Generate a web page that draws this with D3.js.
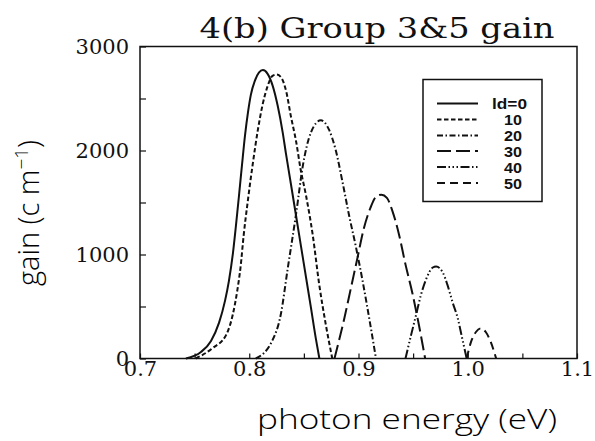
<!DOCTYPE html>
<html>
<head>
<meta charset="utf-8">
<script src="https://cdn.jsdelivr.net/npm/d3@7"></script>
<style>
  html, body { margin: 0; padding: 0; background: #fff; }
  svg { display: block; }
</style>
</head>
<body>
<svg id="chart" width="595" height="441"></svg>
<script>
// ---- data ----
const seriesLabels = ["ld=0", "10", "20", "30", "40", "50"];

const energy0 = [0.742,0.7558,0.765,0.7723,0.7778,0.7814,0.7851,0.7878,0.7906,0.7933,0.7961,0.7988,0.8015,0.8052,0.8088,0.8125,0.8168,0.8214,0.826,0.8306,0.8336,0.8381,0.8427,0.8473,0.8519,0.8565,0.861,0.8642];
const gain0   = [0,63,169,342,554,747,1016,1276,1565,1854,2143,2364,2537,2672,2749,2773,2737,2624,2432,2175,1970,1680,1382,1083,785,486,188,0];

const energy10 = [0.751,0.7665,0.779,0.785,0.789,0.792,0.795,0.7985,0.803,0.808,0.812,0.817,0.821,0.825,0.829,0.834,0.838,0.843,0.847,0.852,0.858,0.864,0.870,0.876];
const gain10   = [0,100,230,425,650,875,1195,1500,1855,2205,2430,2625,2715,2730,2705,2560,2335,2080,1820,1565,1195,715,330,0];

const energy20 = [0.806,0.821,0.829,0.835,0.843,0.849,0.8565,0.8655,0.873,0.879,0.8855,0.8915,0.8975,0.9035,0.910,0.916];
const gain20   = [0,170,430,850,1400,1850,2175,2290,2200,2010,1690,1370,1080,760,375,0];

const energy30 = [0.878,0.887,0.893,0.899,0.905,0.911,0.916,0.921,0.926,0.931,0.937,0.943,0.9495,0.9545,0.961];
const gain30   = [0,385,675,965,1255,1450,1555,1575,1545,1420,1195,905,620,365,0];

const energy40 = [0.943,0.948,0.9525,0.957,0.962,0.968,0.971,0.977,0.9815,0.986,0.991,0.995,0.999];
const gain40   = [0,220,410,605,765,875,885,830,705,545,380,190,0];

const energy50 = [0.999,1.003,1.0075,1.012,1.0165,1.021,1.026];
const gain50   = [0,160,255,290,255,160,0];

const xTicks = [0.7,0.75,0.8,0.85,0.9,0.95,1.0,1.05,1.1];
const xTickLabels = ["0.7","","0.8","","0.9","","1.0","","1.1"];
const yTicks = [0,500,1000,1500,2000,2500,3000];
const yTickLabels = ["0","","1000","","2000","","3000"];

const titleText = "4(b) Group 3&5 gain";
const xTitle = "photon energy (eV)";

// ---- layout ----
const plotL = 140, plotR = 577, plotT = 46.5, plotB = 358.5;
const svg = d3.select("#chart");

const x = d3.scaleLinear().domain([0.7, 1.1]).range([plotL, plotR]);
const y = d3.scaleLinear().domain([0, 3000]).range([plotB, plotT]);

const dashes = ["none", "4.5,2.5", "6,2.5,1.5,2.5", "14,5", "9,2.5,1.5,2.5,1.5,2.5,1.5,2.5", "8,5"];
const series = [
  [energy0, gain0], [energy10, gain10], [energy20, gain20],
  [energy30, gain30], [energy40, gain40], [energy50, gain50]
].map(([e, g], i) => ({ label: seriesLabels[i], dash: dashes[i], pts: e.map((v, j) => [v, g[j]]) }));

// frame
svg.append("rect")
  .attr("x", plotL).attr("y", plotT)
  .attr("width", plotR - plotL).attr("height", plotB - plotT)
  .attr("fill", "none").attr("stroke", "#111").attr("stroke-width", 1.5);

// axes
const xAxis = d3.axisBottom(x).tickValues(xTicks)
  .tickFormat((d, i) => xTickLabels[i]).tickSizeInner(-5).tickSizeOuter(0).tickPadding(3);
const gx = svg.append("g").attr("transform", `translate(0,${plotB})`).call(xAxis);
gx.select(".domain").remove();

const yAxis = d3.axisLeft(y).tickValues(yTicks)
  .tickFormat((d, i) => yTickLabels[i]).tickSizeInner(-6).tickSizeOuter(0).tickPadding(11);
const gy = svg.append("g").attr("transform", `translate(${plotL},0)`).call(yAxis);
gy.select(".domain").remove();

[gx, gy].forEach(g => {
  g.selectAll(".tick line").attr("stroke", "#111").attr("stroke-width", 1.2);
  g.selectAll(".tick text").attr("font-family", "DejaVu Serif, serif")
    .attr("font-size", 21).attr("fill", "#111");
});

// curves
const line = d3.line().x(d => x(d[0])).y(d => y(d[1])).curve(d3.curveMonotoneX);
svg.append("g").selectAll("path").data(series).join("path")
  .attr("d", d => line(d.pts))
  .attr("fill", "none").attr("stroke", "#111").attr("stroke-width", 2)
  .attr("stroke-dasharray", d => d.dash);

// legend
const lg = svg.append("g");
lg.append("rect").attr("x", 423).attr("y", 79.5).attr("width", 119).attr("height", 122)
  .attr("fill", "#fff").attr("stroke", "#111").attr("stroke-width", 1.5);
const rowY = [103.5, 119.5, 135.5, 151, 167, 183];
series.forEach((s, i) => {
  lg.append("line").attr("x1", 437).attr("x2", 478).attr("y1", rowY[i]).attr("y2", rowY[i])
    .attr("stroke", "#111").attr("stroke-width", 2).attr("stroke-dasharray", s.dash);
  lg.append("text").attr("x", i === 0 ? 492 : 504).attr("y", rowY[i] + 5.5)
    .attr("font-family", "Liberation Sans, Arial, sans-serif").attr("font-weight", "bold")
    .attr("font-size", 14.5).attr("fill", "#111")
    .attr("textLength", i === 0 ? 35 : 18).attr("lengthAdjust", "spacingAndGlyphs")
    .text(s.label);
});

// title
svg.append("text").attr("x", 377).attr("y", 38).attr("text-anchor", "middle")
  .attr("font-family", "DejaVu Serif, serif").attr("font-size", 28)
  .attr("textLength", 355).attr("lengthAdjust", "spacingAndGlyphs")
  .attr("fill", "#111").text(titleText);

// x title
svg.append("text").attr("x", 407).attr("y", 429).attr("text-anchor", "middle")
  .attr("font-family", "Open Sans, DejaVu Sans, sans-serif").attr("font-weight", 300)
  .attr("font-size", 28).attr("textLength", 300).attr("lengthAdjust", "spacingAndGlyphs")
  .attr("fill", "#000").text(xTitle);

// y title
const yt = svg.append("text").attr("transform", "translate(39,213) rotate(-90)")
  .attr("text-anchor", "middle")
  .attr("font-family", "Open Sans, DejaVu Sans, sans-serif").attr("font-weight", 300)
  .attr("font-size", 29).attr("fill", "#000");
yt.append("tspan").text("gain (c m");
yt.append("tspan").attr("dy", -11).attr("font-size", 19).text("−1");
yt.append("tspan").attr("dy", 11).text(")");
</script>
</body>
</html>
